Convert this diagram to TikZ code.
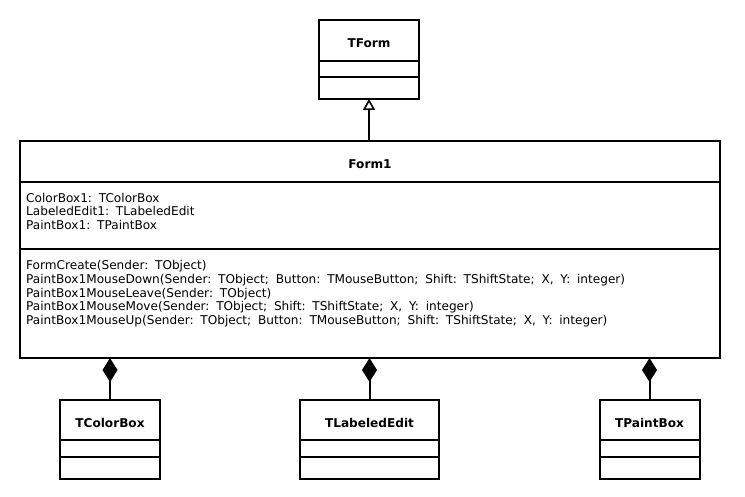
\documentclass[tikz,border=0pt]{standalone}
\usepackage{fontspec}
\setmainfont{DejaVu Sans}
\usetikzlibrary{positioning,arrows.meta}
\newcommand\memberfont{\fontsize{12.1}{13.6}\selectfont\spaceskip=6.8pt\relax}
\begin{document}
\frenchspacing
\begin{tikzpicture}[x=1pt, y=-1pt, font=\fontsize{12.1}{13.6}\selectfont]
    \tikzset{
      part/.style={draw, line width=2pt, inner sep=0pt, outer sep=0pt},
      head/.style={part, font=\fontsize{12.1}{13.6}\selectfont\bfseries, text height=15pt, text depth=0pt},
      members/.style={align=left, inner sep=0pt, anchor=north west, font=\memberfont},
      link/.style={line width=2pt}
    }
    \useasboundingbox (0,0) rectangle (745,497);
    % TForm
    \node[head, minimum width=100pt, minimum height=41pt] (tform) at (369,40.5) {TForm};
    \node[part, minimum width=100pt, minimum height=16pt, anchor=north] (tformattr) at (tform.south) {};
    \node[part, minimum width=100pt, minimum height=22pt, anchor=north] (tformmeth) at (tformattr.south) {};
    % Form1
    \node[head, minimum width=700pt, minimum height=41pt] (form1) at (370,161.5) {Form1};
    \node[part, minimum width=700pt, minimum height=67pt, anchor=north] (form1attr) at (form1.south) {};
    \node[part, minimum width=700pt, minimum height=109pt, anchor=north] (form1meth) at (form1attr.south) {};
    \node[members, below right=11pt and 6pt of form1attr.north west] (form1attrtext)
      {ColorBox1: TColorBox\\LabeledEdit1: TLabeledEdit\\PaintBox1: TPaintBox};
    \node[members, below right=11.5pt and 6pt of form1meth.north west] (form1methtext)
      {FormCreate(Sender: TObject)\\
       PaintBox1MouseDown(Sender: TObject; Button: TMouseButton; Shift: TShiftState; X, Y: integer)\\
       PaintBox1MouseLeave(Sender: TObject)\\
       PaintBox1MouseMove(Sender: TObject; Shift: TShiftState; X, Y: integer)\\
       PaintBox1MouseUp(Sender: TObject; Button: TMouseButton; Shift: TShiftState; X, Y: integer)};
    % parts
    \node[head, minimum width=100pt, minimum height=40pt] (colorbox) at (110,420) {TColorBox};
    \node[part, minimum width=100pt, minimum height=17pt, anchor=north] (colorboxattr) at (colorbox.south) {};
    \node[part, minimum width=100pt, minimum height=22pt, anchor=north] (colorboxmeth) at (colorboxattr.south) {};
    \node[head, minimum width=139pt, minimum height=40pt] (labelededit) at (369.5,420) {TLabeledEdit};
    \node[part, minimum width=139pt, minimum height=17pt, anchor=north] (labeleditattr) at (labelededit.south) {};
    \node[part, minimum width=139pt, minimum height=22pt, anchor=north] (labeleditmeth) at (labeleditattr.south) {};
    \node[head, minimum width=100pt, minimum height=40pt] (paintbox) at (649.5,420) {TPaintBox};
    \node[part, minimum width=100pt, minimum height=17pt, anchor=north] (paintboxattr) at (paintbox.south) {};
    \node[part, minimum width=100pt, minimum height=22pt, anchor=north] (paintboxmeth) at (paintboxattr.south) {};
    % inheritance
    \draw[link, -{Triangle[open, length=11pt, width=12pt, line width=1.6pt]}]
      (form1.north -| tformmeth.south) -- (tformmeth.south);
    % composition
    \draw[link, {Diamond[length=24pt, width=15pt]}-] (form1meth.south -| colorbox.north) -- (colorbox.north);
    \draw[link, {Diamond[length=24pt, width=15pt]}-] (form1meth.south -| labelededit.north) -- (labelededit.north);
    \draw[link, {Diamond[length=24pt, width=15pt]}-] (form1meth.south -| paintbox.north) -- (paintbox.north);
\end{tikzpicture}
\end{document}
